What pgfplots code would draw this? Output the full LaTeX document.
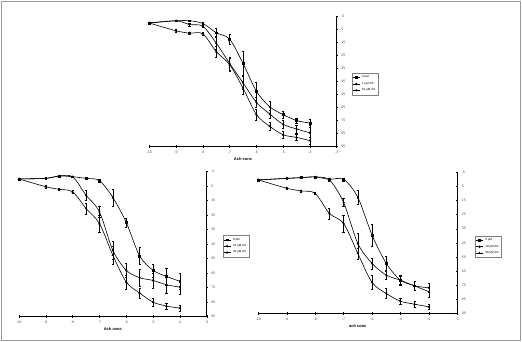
\documentclass[border=0pt]{standalone}
\usepackage{pgfplots}
\pgfplotsset{compat=1.18}
\usepackage{pgfplotstable}
\usepackage{fontspec}
\setmainfont{Liberation Sans}

\pgfplotstableread{
x     r     re   m     me   l     le
-10   0     0    0     0    0     0
-9   -1.7   0.6 -1.7   0.6  6.0   1.0
-8.5 -1.7   0.6  1.2   1.0  7.8   1.0
-8    0.4   1.0  2.5   1.0  8.3   1.0
-7.5  7.5   3.5  15.5  5.0  22.0  4.0
-7    12.4  4.0  31.0  5.0  32.0  5.0
-6.5  31.0  9.5  46.0  5.0  50.0  5.0
-6    52.5  7.0  61.0  4.0  70.5  4.0
-5.5  64.5  4.5  70.0  3.0  79.5  3.0
-5    70.5  3.0  78.0  3.0  86.0  2.5
-4.5  75.0  2.0  81.5  3.0  88.0  2.5
-4    77.0  3.0  84.5  6.0  90.5  3.0
}\tabtop

\pgfplotstableread{
x     r     re   m     me   l     le
-10   0     0    0     0    0     0
-9   -0.4   0.6 -0.4   0.6  5.4   0.8
-8.5 -2.0   0.8 -2.0   0.8  7.2   0.8
-8   -1.5   0.6 -1.5   0.6  8.9   0.8
-7.5 -0.4   0.6  11.2  3.5  20.4  4.0
-7    1.2   1.0  22.7  4.0  30.8  6.0
-6.5  12.8  6.0  49.3  6.0  52.7  6.5
-6    30.1  3.0  63.1  5.0  71.2  5.0
-5.5  53.2  6.0  68.2  6.0  78.8  3.5
-5    63.1  4.4  70.1  5.0  85.1  2.5
-4.5  67.3  6.0  73.1  6.0  87.8  2.0
-4    70.7  5.4  74.7  5.0  89.2  2.0
}\tabbl

\pgfplotstableread{
x     r     re   m     me   l     le
-10   0.4   0    0.4   0    0.4   0
-9   -0.7   0.6 -0.7   0.6  6.3   0.8
-8.5 -1.2   0.6 -1.2   0.6  8.2   0.8
-8   -1.7   0.6 -1.7   0.6  9.9   0.8
-7.5  0.0   0.6  0.4   1.0  24.1  4.0
-7    0.0   1.0  16.3  3.0  31.2  6.0
-6.5  12.7  5.0  45.4  7.0  52.4  4.0
-6    39.4  8.0  59.5  4.0  73.0  5.0
-5.5  59.5  5.0  67.8  3.0  80.8  3.5
-5    71.4  3.5  71.4  3.0  86.3  2.4
-4.5  75.4  3.0  75.4  3.0  88.4  2.0
-4    79.6  3.5  76.8  3.0  90.3  1.7
}\tabbr

\pgfplotsset{
  panel/.style={
    scale only axis,
    xmin=-10, xmax=-3, ymin=-5, ymax=95, y dir=reverse,
    axis x line=bottom, axis y line=right,
    axis line style={-, black, line width=0.6pt},
    every outer x axis line/.append style={-},
    every outer y axis line/.append style={-},
    xtick={-10,-9,...,-3}, ytick={-5,5,...,95},
    minor x tick num=9, minor y tick num=4,
    major tick length=2.2pt, minor tick length=1.3pt,
    tick align=center,
    tick style={black, line width=0.4pt},
    tick label style={font=\fontsize{3.5}{4}\selectfont, text=black!70},
    /pgf/number format/assume math mode=true,
    xlabel={Ach conc},
    xlabel style={font=\fontsize{4}{5}\selectfont\bfseries, yshift=3pt},
    clip=false,
    after end axis/.code={\draw[black, line width=0.6pt] (axis cs:-10,95) -- (axis cs:-3,95);},
    legend style={draw=gray, line width=0.3pt, font=\fontsize{3}{3.5}\selectfont,
      inner sep=0.6pt, row sep=-1.2pt, cells={anchor=west}, anchor=north west},
    legend image code/.code={
      \draw[mark repeat=2,mark phase=2,##1] plot coordinates {(0pt,0pt) (3.5pt,0pt) (7pt,0pt)};},
    ser/.style={black, line width=0.6pt, smooth, tension=0.5,
      mark size=0.9pt, mark options={solid, fill=black},
      error bars/.cd, y dir=both, y explicit,
      error bar style={line width=0.35pt, black},
      error mark options={rotate=90, mark size=1.1pt, line width=0.35pt, black}},
  },
}

\begin{document}
\begin{tikzpicture}
\useasboundingbox (0,0) rectangle (522pt,342pt);
\draw[gray!80, line width=0.9pt] (1pt,2pt) rectangle (520.5pt,341pt);

% top panel
\begin{axis}[panel, at={(149.3pt,195.5pt)}, anchor=south west, width=187.4pt, height=130pt,
  legend style={at={(1.08,0.565)}}]
\addplot[mark=square*, ser] table[x=x, y=r, y error=re] {\tabtop};
\addlegendentry{0 µM}
\addplot[mark=diamond*, ser] table[x=x, y=m, y error=me] {\tabtop};
\addlegendentry{1 µM AS}
\addplot[mark=triangle*, ser] table[x=x, y=l, y error=le] {\tabtop};
\addlegendentry{10 µM AS}
\end{axis}

% bottom left
\begin{axis}[panel, at={(19pt,25.5pt)}, anchor=south west, width=187.7pt, height=144.8pt,
  legend style={at={(1.085,0.561)}}]
\addplot[mark=square*, ser] table[x=x, y=r, y error=re] {\tabbl};
\addlegendentry{0 µM}
\addplot[mark=diamond*, ser] table[x=x, y=m, y error=me] {\tabbl};
\addlegendentry{10 µM AS}
\addplot[mark=triangle*, ser] table[x=x, y=l, y error=le] {\tabbl};
\addlegendentry{30 µM AS}
\end{axis}

% bottom right
\begin{axis}[panel, at={(258.3pt,28.5pt)}, anchor=south west, width=199pt, height=141.2pt,
  xlabel={ach conc},
  legend style={at={(1.089,0.55)}}]
\addplot[mark=square*, ser] table[x=x, y=r, y error=re] {\tabbr};
\addlegendentry{0 µM}
\addplot[mark=diamond*, ser] table[x=x, y=m, y error=me] {\tabbr};
\addlegendentry{10 µM AS}
\addplot[mark=triangle*, ser] table[x=x, y=l, y error=le] {\tabbr};
\addlegendentry{30 µM AS}
\end{axis}
\end{tikzpicture}
\end{document}
